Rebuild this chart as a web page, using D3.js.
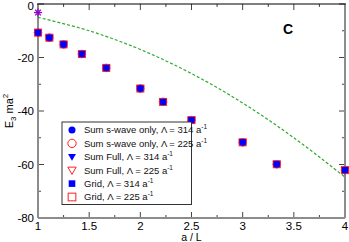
<!DOCTYPE html>
<html><head><meta charset="utf-8">
<script src="https://cdn.jsdelivr.net/npm/d3@7"></script>
<style>body{margin:0;background:#fff}svg{display:block;font-family:"Liberation Sans",Arial,sans-serif}</style>
</head><body>
<script>
const aOverL = [1, 1.111, 1.25, 1.429, 1.667, 2, 2.222, 2.5, 3, 3.333, 4];
const sumS314 = [-10.7, -12.6, -15.1, -18.7, -23.9, -31.6, -36.6, -43.4, -51.7, -59.9, -62.1];
const sumS225 = [-10.7, -12.6, -15.1, -18.7, -23.9, -31.6, -36.6, -43.4, -51.7, -59.9, -62.1];
const full314 = [-10.7, -12.6, -15.1, -18.7, -23.9, -31.6, -36.6, -43.4, -51.7, -59.9, -62.1];
const full225 = [-10.7, -12.6, -15.1, -18.7, -23.9, -31.6, -36.6, -43.4, -51.7, -59.9, -62.1];
const grid314 = [-10.7, -12.6, -15.1, -18.7, -23.9, -31.6, -36.6, -43.4, -51.7, -59.9, -62.1];
const grid225 = [-10.7, -12.6, -15.1, -18.7, -23.9, -31.6, -36.6, -43.4, -51.7, -59.9, -62.1];
const curveX = [1, 1.5, 2, 2.5, 3, 3.5, 4];
const curveY = [-5.0, -10.0, -17.0, -26.0, -37.0, -50.0, -64.7];
const starX = [1];
const starY = [-3.2];
const xTicks = [1, 1.5, 2, 2.5, 3, 3.5, 4];
const yTicks = [0, -20, -40, -60, -80];
const legendLabels = [
  "Sum s-wave only, \u039B = 314 a", "Sum s-wave only, \u039B = 225 a",
  "Sum Full, \u039B = 314 a", "Sum Full, \u039B = 225 a",
  "Grid, \u039B = 314 a", "Grid, \u039B = 225 a"];

const W = 349, H = 242;
const m = {l: 38, r: 4, t: 4, b: 24};
const svg = d3.select("body").append("svg").attr("width", W).attr("height", H);
const x = d3.scaleLinear().domain([1, 4]).range([m.l, W - m.r]);
const y = d3.scaleLinear().domain([-80, 0]).range([H - m.b, m.t]);
const x0 = x(1), x1 = x(4), y0 = y(-80), y1 = y(0);
const gray = "#8c8c8c";

// ticks
const xMinor = d3.range(1, 4.01, 0.25);
const yMinor = d3.range(-80, 0.01, 10);
const tk = svg.append("g").attr("stroke", "#444").attr("stroke-width", 1);
xMinor.forEach(v => {
  const major = Math.abs(v * 2 - Math.round(v * 2)) < 1e-6;
  const L = major ? 6 : 3;
  tk.append("line").attr("x1", x(v)).attr("x2", x(v)).attr("y1", y0).attr("y2", y0 - L);
  tk.append("line").attr("x1", x(v)).attr("x2", x(v)).attr("y1", y1).attr("y2", y1 + L);
});
yMinor.forEach(v => {
  const major = v % 20 === 0;
  const L = major ? 6 : 3;
  tk.append("line").attr("y1", y(v)).attr("y2", y(v)).attr("x1", x0).attr("x2", x0 + L);
  tk.append("line").attr("y1", y(v)).attr("y2", y(v)).attr("x1", x1).attr("x2", x1 - L);
});

// frame
svg.append("line").attr("x1", x0).attr("x2", x0).attr("y1", y1).attr("y2", y0).attr("stroke", gray).attr("stroke-width", 2);
svg.append("line").attr("x1", x1).attr("x2", x1).attr("y1", y1).attr("y2", y0).attr("stroke", gray).attr("stroke-width", 2);
svg.append("line").attr("x1", x0).attr("x2", x1).attr("y1", y0).attr("y2", y0).attr("stroke", gray).attr("stroke-width", 2);
svg.append("line").attr("x1", x0 - 1).attr("x2", x1 + 1).attr("y1", y1).attr("y2", y1).attr("stroke", "#000").attr("stroke-width", 1.2);

// tick labels
svg.append("g").selectAll("text").data(xTicks).join("text")
  .attr("x", d => x(d)).attr("y", 230).attr("text-anchor", "middle")
  .attr("font-size", 11.5).text(d => d3.format("")(d));
svg.append("g").selectAll("text").data(yTicks).join("text")
  .attr("x", x0 - 4).attr("y", d => Math.max(y(d) + 4, 9.5)).attr("text-anchor", "end")
  .attr("font-size", 11.5).text(d => d);

// axis titles
svg.append("text").attr("x", (x0 + x1) / 2).attr("y", 241).attr("text-anchor", "middle")
  .attr("font-size", 10.5).text("a / L");
const yl = svg.append("text").attr("transform", `translate(13,${(y0 + y1) / 2}) rotate(-90)`)
  .attr("text-anchor", "middle").attr("font-size", 11);
yl.append("tspan").text("E");
yl.append("tspan").attr("font-size", 8).attr("dy", 3).text("3");
yl.append("tspan").attr("dy", -3).text(" ma");
yl.append("tspan").attr("font-size", 8).attr("dy", -5).text("2");

// panel label
svg.append("text").attr("x", 288).attr("y", 34).attr("text-anchor", "middle")
  .attr("font-size", 14).attr("font-weight", "bold").text("C");

// green dashed curve
const pts = curveX.map((v, i) => [v, curveY[i]]);
svg.append("path").attr("d", d3.line().x(d => x(d[0])).y(d => y(d[1])).curve(d3.curveCatmullRom)(pts))
  .attr("fill", "none").attr("stroke", "#2eaa2e").attr("stroke-width", 1.2).attr("stroke-dasharray", "3,2");

// marker symbols
function marker(g, type, cx, cy, k) {
  k = k || 1;
  const blue = "#0000ff", red = "#ff2020";
  if (type === 0) g.append("circle").attr("cx", cx).attr("cy", cy).attr("r", 3.2 * k).attr("fill", blue);
  if (type === 1) g.append("circle").attr("cx", cx).attr("cy", cy).attr("r", 3.8 * k).attr("fill", "none").attr("stroke", red).attr("stroke-width", 1);
  if (type === 2) g.append("path").attr("d", `M${cx-3.6*k},${cy-2.6*k}L${cx+3.6*k},${cy-2.6*k}L${cx},${cy+3.6*k}Z`).attr("fill", blue);
  if (type === 3) g.append("path").attr("d", `M${cx-3.8*k},${cy-2.8*k}L${cx+3.8*k},${cy-2.8*k}L${cx},${cy+3.8*k}Z`).attr("fill", "none").attr("stroke", red).attr("stroke-width", 1);
  if (type === 4) g.append("rect").attr("x", cx - 3 * k).attr("y", cy - 3 * k).attr("width", 6 * k).attr("height", 6 * k).attr("fill", blue);
  if (type === 5) g.append("rect").attr("x", cx - 3.5 * k).attr("y", cy - 3.5 * k).attr("width", 7 * k).attr("height", 7 * k).attr("fill", "none").attr("stroke", red).attr("stroke-width", 1);
}
const series = [sumS314, sumS225, full314, full225, grid314, grid225];
const order = [1, 3, 5, 0, 2, 4];
const mg = svg.append("g");
order.forEach(si => {
  series[si].forEach((v, i) => marker(mg, si, x(aOverL[i]), y(v)));
});

// purple star
starX.forEach((v, i) => {
  const cx = x(v), cy = y(starY[i]);
  const s = svg.append("g").attr("stroke", "#9900cc").attr("stroke-width", 1.3);
  [0, 45, 90, 135].forEach(a => {
    const r = 4, rad = a * Math.PI / 180;
    s.append("line").attr("x1", cx - r * Math.cos(rad)).attr("y1", cy - r * Math.sin(rad))
      .attr("x2", cx + r * Math.cos(rad)).attr("y2", cy + r * Math.sin(rad));
  });
});

// legend
const lg = svg.append("g");
lg.append("rect").attr("x", 62).attr("y", 122).attr("width", 129.5).attr("height", 82.5)
  .attr("fill", "#fff").attr("stroke", "#333").attr("stroke-width", 1);
legendLabels.forEach((t, i) => {
  const cy = 130 + i * 13.4;
  marker(lg, i, 72, cy, 1.1);
  const tx = lg.append("text").attr("x", 84).attr("y", cy + 3.4).attr("font-size", 9.5).attr("fill", "#111");
  tx.append("tspan").text(t);
  tx.append("tspan").attr("font-size", 6.5).attr("dy", -4).text("-1");
});
</script>
</body></html>
